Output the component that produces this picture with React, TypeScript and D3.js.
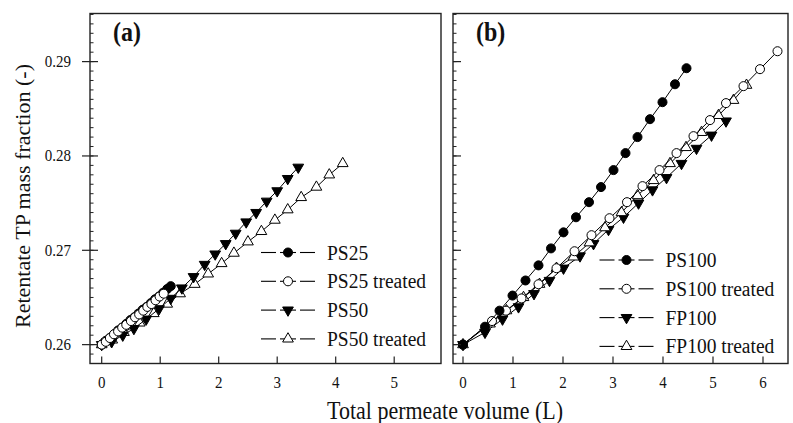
import React from 'react';
import * as d3 from 'd3';

// ---------- data (panel a) ----------
const PS25_X = [0, 0.07, 0.14, 0.21, 0.28, 0.35, 0.42, 0.49, 0.56, 0.63, 0.70, 0.77, 0.84, 0.91, 0.98, 1.05, 1.12, 1.18];
const PS25_Y = [0.2600, 0.2604, 0.2607, 0.2611, 0.2615, 0.2618, 0.2622, 0.2626, 0.2629, 0.2633, 0.2637, 0.2640, 0.2644, 0.2648, 0.2651, 0.2655, 0.2659, 0.2662];
const PS25T_X = [0, 0.07, 0.14, 0.21, 0.28, 0.35, 0.42, 0.50, 0.57, 0.64, 0.71, 0.78, 0.85, 0.92, 0.99, 1.06];
const PS25T_Y = [0.2600, 0.2603, 0.2607, 0.2611, 0.2614, 0.2618, 0.2621, 0.2625, 0.2629, 0.2632, 0.2636, 0.2640, 0.2643, 0.2647, 0.2651, 0.2654];
const PS50_X = [0, 0.17, 0.36, 0.55, 0.76, 0.98, 1.18, 1.37, 1.57, 1.76, 1.94, 2.12, 2.29, 2.47, 2.64, 2.82, 3.0, 3.18, 3.36];
const PS50_Y = [0.2600, 0.2603, 0.2610, 0.2617, 0.2627, 0.2638, 0.2649, 0.2660, 0.2672, 0.2685, 0.2696, 0.2707, 0.2718, 0.2730, 0.2740, 0.2752, 0.2763, 0.2776, 0.2788];
const PS50T_X = [0, 0.18, 0.38, 0.65, 0.89, 1.12, 1.34, 1.59, 1.82, 2.05, 2.26, 2.50, 2.73, 2.96, 3.18, 3.41, 3.67, 3.89, 4.12];
const PS50T_Y = [0.2600, 0.2605, 0.2613, 0.2623, 0.2633, 0.2643, 0.2654, 0.2664, 0.2675, 0.2686, 0.2697, 0.2709, 0.2720, 0.2732, 0.2743, 0.2756, 0.2767, 0.2780, 0.2792];

// ---------- data (panel b) ----------
const PS100_X = [0, 0.44, 0.73, 0.99, 1.25, 1.51, 1.76, 2.01, 2.26, 2.52, 2.76, 3.01, 3.25, 3.49, 3.74, 3.99, 4.24, 4.47];
const PS100_Y = [0.2600, 0.2619, 0.2636, 0.2652, 0.2668, 0.2684, 0.2702, 0.2719, 0.2735, 0.2751, 0.2767, 0.2785, 0.2803, 0.2820, 0.2839, 0.2857, 0.2876, 0.2893];
const PS100T_X = [0, 0.58, 0.86, 1.17, 1.51, 1.87, 2.23, 2.57, 2.93, 3.28, 3.59, 3.93, 4.27, 4.61, 4.94, 5.26, 5.61, 5.94, 6.29];
const PS100T_Y = [0.2600, 0.2625, 0.2636, 0.2649, 0.2664, 0.2681, 0.2699, 0.2716, 0.2734, 0.2751, 0.2768, 0.2785, 0.2803, 0.2821, 0.2838, 0.2856, 0.2874, 0.2892, 0.2911];
const FP100_X = [0, 0.44, 0.79, 1.11, 1.42, 1.73, 2.01, 2.34, 2.61, 2.91, 3.21, 3.51, 3.79, 4.07, 4.37, 4.67, 4.97, 5.26];
const FP100_Y = [0.2600, 0.2613, 0.2627, 0.2640, 0.2654, 0.2668, 0.2681, 0.2694, 0.2707, 0.2722, 0.2735, 0.2750, 0.2764, 0.2777, 0.2792, 0.2808, 0.2822, 0.2837];
const FP100T_X = [0, 0.54, 0.87, 1.21, 1.53, 1.87, 2.21, 2.53, 2.84, 3.17, 3.49, 3.81, 4.14, 4.46, 4.77, 5.11, 5.41, 5.67];
const FP100T_Y = [0.2600, 0.2622, 0.2636, 0.2650, 0.2664, 0.2681, 0.2693, 0.2708, 0.2724, 0.2740, 0.2758, 0.2774, 0.2792, 0.2809, 0.2825, 0.2843, 0.2859, 0.2875];

// ---------- ticks / labels ----------
const X_TICKS_A = [0, 1, 2, 3, 4, 5];
const X_TICKS_B = [0, 1, 2, 3, 4, 5, 6];
const Y_TICKS = [0.26, 0.27, 0.28, 0.29];
const LEGEND_A = ['PS25', 'PS25 treated', 'PS50', 'PS50 treated'];
const LEGEND_B = ['PS100', 'PS100 treated', 'FP100', 'FP100 treated'];
const X_TITLE = 'Total permeate volume (L)';
const Y_TITLE = 'Retentate TP mass fraction (-)';

type Kind = 'fc' | 'oc' | 'fd' | 'ou';
const KINDS: Kind[] = ['fc', 'oc', 'fd', 'ou'];

const FONT = "'Liberation Serif', 'Times New Roman', Times, serif";
const SY = 1.12;

const circlePath = d3.symbol().type(d3.symbolCircle).size(64)()!;
const triPath = d3.symbol().type(d3.symbolTriangle).size(50)()!;

function Marker({ kind, x, y }: { kind: Kind; x: number; y: number }) {
  const filled = kind === 'fc' || kind === 'fd';
  const d = kind === 'fc' || kind === 'oc' ? circlePath : triPath;
  const rot = kind === 'fd' ? ' rotate(180)' : '';
  return (
    <path
      d={d}
      transform={`translate(${x},${y})${rot}`}
      fill={filled ? '#000' : '#fff'}
      stroke="#000"
      strokeWidth={1}
    />
  );
}

function T({ x, y, size, anchor, bold, children }: { x: number; y: number; size: number; anchor?: string; bold?: boolean; children: React.ReactNode }) {
  return (
    <text
      transform={`translate(${x},${y}) scale(1,${SY})`}
      textAnchor={anchor || 'start'}
      fontFamily={FONT}
      fontSize={size}
      fontWeight={bold ? 'bold' : 'normal'}
      fill="#111"
    >
      {children}
    </text>
  );
}

const yScale = d3.scaleLinear().domain([0.258, 0.2951]).range([363.5, 13.5]);
const minorY = d3.range(0, 38).map((i) => 0.258 + i * 0.001);

interface PanelProps {
  xScale: d3.ScaleLinear<number, number>;
  xTicks: number[];
  series: { xs: number[]; ys: number[]; kind: Kind }[];
  legend: string[];
  legendX: number;
  legendY: number;
  label: string;
  outerTicks: boolean;
}

function Panel({ xScale, xTicks, series, legend, legendX, legendY, label, outerTicks }: PanelProps) {
  const [x0, x1] = xScale.range();
  const [y0, y1] = yScale.range();
  const line = d3
    .line<[number, number]>()
    .x((d) => xScale(d[0]))
    .y((d) => yScale(d[1]));
  return (
    <g>
      {series.map((s, i) => (
        <g key={i}>
          <path
            d={line(s.xs.map((v, j) => [v, s.ys[j]] as [number, number])) || ''}
            fill="none"
            stroke="#000"
            strokeWidth={1}
          />
          {s.xs.map((v, j) => (
            <Marker key={j} kind={s.kind} x={xScale(v)} y={yScale(s.ys[j])} />
          ))}
        </g>
      ))}
      {/* frame */}
      <rect x={x0} y={y1} width={x1 - x0} height={y0 - y1} fill="none" stroke="#222" strokeWidth={1.4} />
      {/* y ticks */}
      {minorY.map((v, i) => (
        <line key={'m' + i} x1={x0} x2={x0 + 3.5} y1={yScale(v)} y2={yScale(v)} stroke="#222" strokeWidth={1} />
      ))}
      {Y_TICKS.map((v, i) => (
        <line
          key={'M' + i}
          x1={outerTicks ? x0 - 8 : x0}
          x2={x0 + 8}
          y1={yScale(v)}
          y2={yScale(v)}
          stroke="#222"
          strokeWidth={1.2}
        />
      ))}
      {/* x ticks */}
      {xTicks.map((v, i) => (
        <g key={'x' + i}>
          <line x1={xScale(v)} x2={xScale(v)} y1={y0} y2={y0 - 7} stroke="#222" strokeWidth={1.2} />
          <T x={xScale(v)} y={388} size={15} anchor="middle">
            {v}
          </T>
        </g>
      ))}
      {/* panel label */}
      <T x={x0 + 23} y={41} size={24} bold>
        {label}
      </T>
      {/* legend */}
      {legend.map((name, i) => {
        const cy = legendY + i * 28.8;
        const cx = legendX;
        return (
          <g key={'l' + i}>
            <line x1={cx - 27} x2={cx - 12} y1={cy} y2={cy} stroke="#000" strokeWidth={1.1} />
            <line x1={cx - 8} x2={cx + 8} y1={cy} y2={cy} stroke="#000" strokeWidth={1.1} />
            <line x1={cx + 12} x2={cx + 27} y1={cy} y2={cy} stroke="#000" strokeWidth={1.1} />
            <Marker kind={KINDS[i]} x={cx} y={cy} />
            <T x={cx + 39} y={cy + 7} size={19.5}>
              {name}
            </T>
          </g>
        );
      })}
    </g>
  );
}

export default function App() {
  const xA = d3.scaleLinear().domain([-0.2, 5.8]).range([90, 441]);
  const xB = d3.scaleLinear().domain([-0.2, 6.5]).range([453, 788]);
  const seriesA = [
    { xs: PS50T_X, ys: PS50T_Y, kind: 'ou' as Kind },
    { xs: PS50_X, ys: PS50_Y, kind: 'fd' as Kind },
    { xs: PS25_X, ys: PS25_Y, kind: 'fc' as Kind },
    { xs: PS25T_X, ys: PS25T_Y, kind: 'oc' as Kind },
  ];
  const seriesB = [
    { xs: FP100_X, ys: FP100_Y, kind: 'fd' as Kind },
    { xs: FP100T_X, ys: FP100T_Y, kind: 'ou' as Kind },
    { xs: PS100T_X, ys: PS100T_Y, kind: 'oc' as Kind },
    { xs: PS100_X, ys: PS100_Y, kind: 'fc' as Kind },
  ];
  return (
    <svg
      width={793}
      height={423}
      viewBox="0 0 793 423"
      style={{ position: 'absolute', left: 0, top: 0, background: '#fff' }}
    >
      <rect width={793} height={423} fill="#fff" />
      <Panel xScale={xA} xTicks={X_TICKS_A} series={seriesA} legend={LEGEND_A} legendX={288} legendY={252.5} label="(a)" outerTicks={true} />
      <Panel xScale={xB} xTicks={X_TICKS_B} series={seriesB} legend={LEGEND_B} legendX={626.5} legendY={260} label="(b)" outerTicks={false} />
      {Y_TICKS.map((v, i) => (
        <T key={i} x={71} y={yScale(v) + 5.5} size={15} anchor="end">
          {v.toFixed(2)}
        </T>
      ))}
      <T x={445} y={419} size={22} anchor="middle">
        {X_TITLE}
      </T>
      <text
        transform={`translate(30,196) rotate(-90)`}
        textAnchor="middle"
        fontFamily={FONT}
        fontSize={22}
        fill="#111"
      >
        {Y_TITLE}
      </text>
    </svg>
  );
}
